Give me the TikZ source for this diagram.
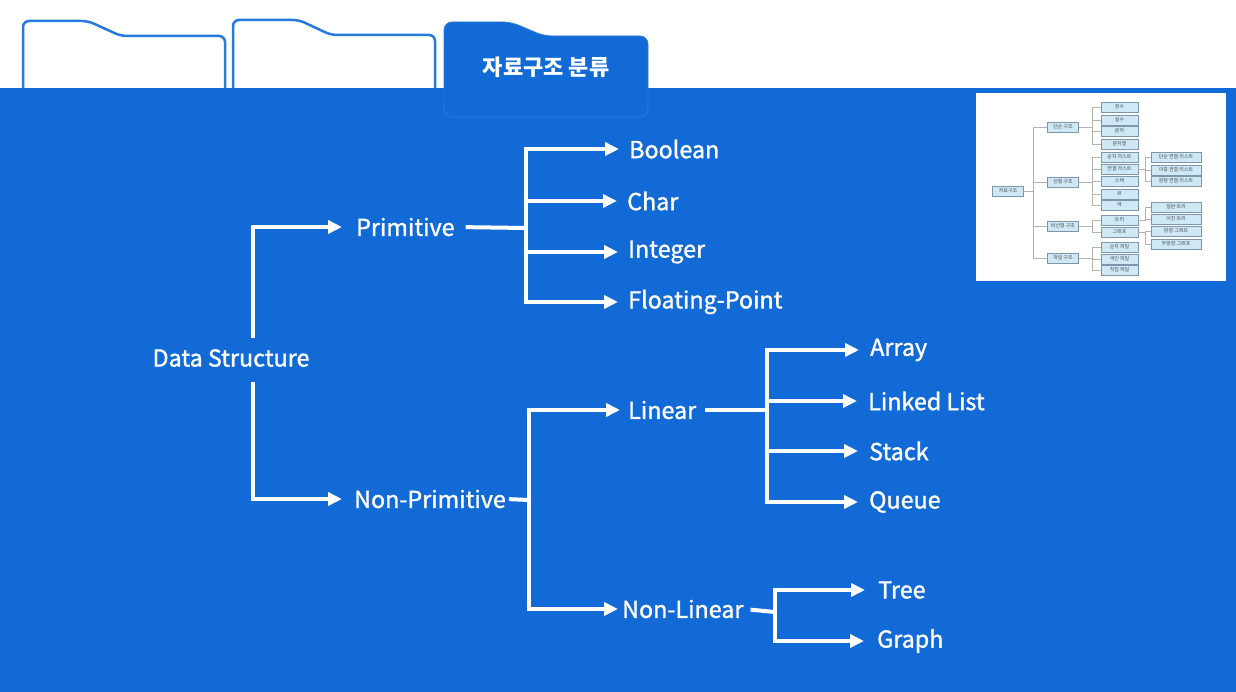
\documentclass[tikz,border=0pt]{standalone}
\usepackage{fontspec}
\setmainfont{Noto Sans CJK KR}
\newfontfamily\labelfont[FakeBold=1.3]{Noto Sans CJK KR}
\usetikzlibrary{arrows.meta}

\definecolor{bandblue}{RGB}{17,106,214}
\definecolor{tabline}{RGB}{38,122,222}
\definecolor{minifill}{RGB}{206,232,246}
\definecolor{miniedge}{RGB}{125,150,170}

\begin{document}
\begin{tikzpicture}[x=1pt,y=-1pt]
    \tikzstyle{lbl}=[text=white,font=\labelfont\fontsize{23.3}{28}\selectfont,inner sep=0pt,anchor=west]
    \tikzstyle{link}=[draw=white,line width=4pt]
    \tikzstyle{arr}=[link,-{Triangle[length=14pt,width=13pt]}]
    \tikzstyle{mini}=[draw=miniedge,fill=minifill,line width=0.6pt,minimum height=10pt,inner sep=0pt,font=\fontsize{5}{6}\selectfont,text=black!70]
    \tikzstyle{minilink}=[draw=gray!60,line width=0.8pt]

    \useasboundingbox (0,0) rectangle (1236,692);
    \fill[white] (0,0) rectangle (1236,692);

    % folder tabs
    \draw[tabline,line width=2.5pt,rounded corners=6pt] (23,100) -- (23,21) -- (88,21) -- (121,36) -- (225,36) -- (225,100);
    \draw[tabline,line width=2.5pt,rounded corners=6pt] (233,100) -- (233,20) -- (299,20) -- (331,35) -- (435,35) -- (435,100);
    \fill[bandblue] (0,88) rectangle (1236,692);
    \filldraw[fill=bandblue,draw=bandblue!88!white,line width=0.8pt,rounded corners=8pt] (444,117) -- (444,22) -- (511,22) -- (544,36) -- (648,36) -- (648,117) -- cycle;
    \node[text=white,font=\bfseries\fontsize{22}{26}\selectfont] (tab-title) at (546,67) {자료구조 분류};

    % small picture, top right
    \fill[white] (976,93) rectangle (1226,281);
    \node[mini,minimum width=31pt] (M-root) at (1008,191) {자료구조};
    \foreach \n/\y/\t in {S1/127/단순 구조,S2/182/선형 구조,S3/226/비선형 구조,S4/258/파일 구조}
        \node[mini,minimum width=31pt] (M-\n) at (1063,\y) {\t};
    \foreach \n/\y/\t in {A1/107/정수,A2/120/실수,A3/131/문자,A4/144/문자열,
                          B1/157/순차 리스트,B2/169/연결 리스트,B3/181/스택,B4/194/큐,B5/205/덱,
                          C1/220/트리,C2/232/그래프,
                          D1/247/순차 파일,D2/259/색인 파일,D3/270/직접 파일}
        \node[mini,minimum width=37pt] (M-\n) at (1119.5,\y) {\t};
    \foreach \n/\y/\t in {E1/157/단순 연결 리스트,E2/170/이중 연결 리스트,E3/181/원형 연결 리스트,
                          F1/207/일반 트리,F2/219/이진 트리,G1/231/방향 그래프,G2/244/무방향 그래프}
        \node[mini,minimum width=50pt] (M-\n) at (1176,\y) {\t};

    \foreach \c in {S1,S2,S3,S4}
        \draw[minilink] (M-root.east) -- ++(10,0) |- (M-\c.west);
    \foreach \c in {A1,A2,A3,A4}
        \draw[minilink] (M-S1.east) -- ++(14,0) |- (M-\c.west);
    \foreach \c in {B1,B2,B3,B4,B5}
        \draw[minilink] (M-S2.east) -- ++(14,0) |- (M-\c.west);
    \foreach \c in {C1,C2}
        \draw[minilink] (M-S3.east) -- ++(14,0) |- (M-\c.west);
    \foreach \c in {D1,D2,D3}
        \draw[minilink] (M-S4.east) -- ++(14,0) |- (M-\c.west);
    \foreach \c in {E1,E2,E3}
        \draw[minilink] (M-B2.east) -- ++(7,0) |- (M-\c.west);
    \foreach \c in {F1,F2}
        \draw[minilink] (M-C1.east) -- ++(7,0) |- (M-\c.west);
    \foreach \c in {G1,G2}
        \draw[minilink] (M-C2.east) -- ++(7,0) |- (M-\c.west);

    % main tree
    \node[lbl,anchor=center] (DS) at (231,358) {Data Structure};
    \node[lbl] (DS-prim) at (356,227) {Primitive};
    \node[lbl] (DS-nonprim) at (354,499) {Non-Primitive};

    \node[lbl] (P-bool) at (629,149) {Boolean};
    \node[lbl] (P-char) at (627,201) {Char};
    \node[lbl] (P-int) at (628,252) {Integer};
    \node[lbl] (P-float) at (628,302) {Floating-Point};

    \node[lbl] (N-lin) at (628,410) {Linear};
    \node[lbl] (N-nonlin) at (622,609) {Non-Linear};

    \node[lbl] (L-array) at (870,350) {Array};
    \node[lbl] (L-linked) at (868,401) {Linked List};
    \node[lbl] (L-stack) at (869,451) {Stack};
    \node[lbl] (L-queue) at (869,502) {Queue};

    \node[lbl] (T-tree) at (878,590) {Tree};
    \node[lbl] (T-graph) at (877,641) {Graph};

    \coordinate (J-prim) at (526,228);
    \coordinate (J-nonprim) at (529,500);
    \coordinate (J-lin) at (767,410);
    \coordinate (J-nonlin) at (775,612);

    \draw[arr,shorten >=14pt] ([xshift=22pt,yshift=11pt]DS.north) |- (DS-prim.west);
    \draw[arr,shorten >=12pt] ([xshift=22pt,yshift=-15pt]DS.south) |- (DS-nonprim.west);

    \draw[link,shorten <=11pt] (DS-prim.east) -- (J-prim);
    \foreach \c in {P-bool,P-char,P-int,P-float}
        \draw[arr,shorten >=10pt] (J-prim) |- (\c.west);

    \draw[link,shorten <=3pt] (DS-nonprim.east) -- (J-nonprim);
    \draw[arr,shorten >=8pt] (J-nonprim) |- (N-lin.west);
    \draw[arr,shorten >=4pt] (J-nonprim) |- (N-nonlin.west);

    \draw[link,shorten <=9pt] (N-lin.east) -- (J-lin);
    \foreach \c in {L-array,L-linked,L-stack,L-queue}
        \draw[arr,shorten >=11pt] (J-lin) |- (\c.west);

    \draw[link,shorten <=7pt] (N-nonlin.east) -- (J-nonlin);
    \foreach \c in {T-tree,T-graph}
        \draw[arr,shorten >=13pt] (J-nonlin) |- (\c.west);
\end{tikzpicture}
\end{document}
